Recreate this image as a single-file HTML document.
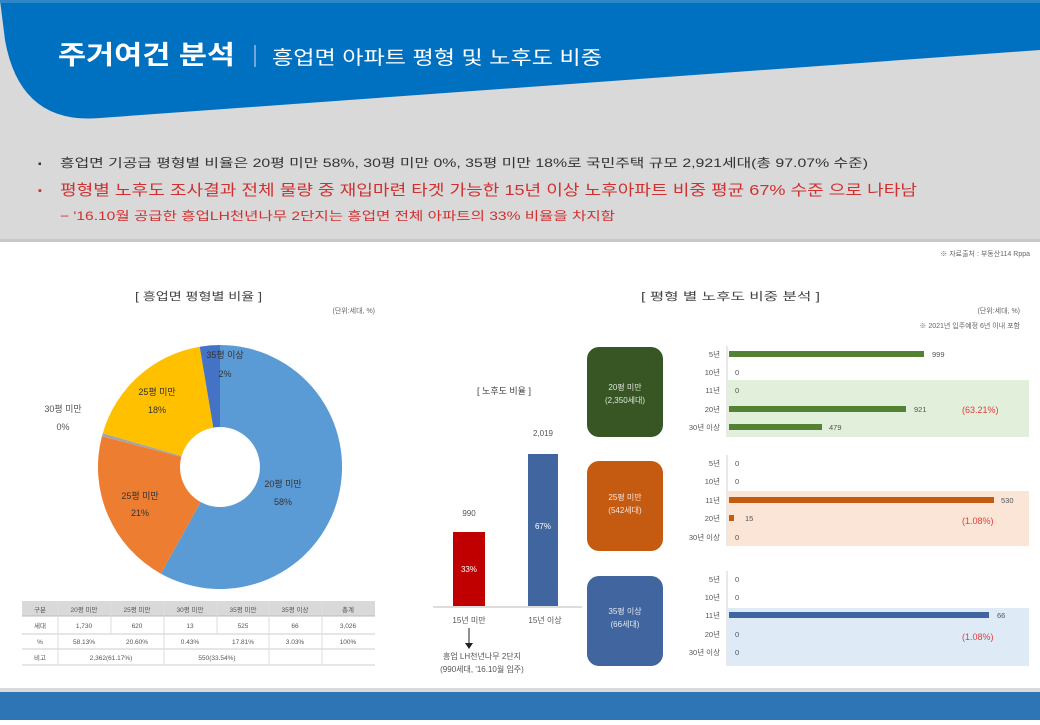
<!DOCTYPE html>
<html><head><meta charset="utf-8"><style>
body{margin:0;width:1040px;height:720px;overflow:hidden;background:#fff;font-family:"Liberation Sans","Noto Sans CJK KR",sans-serif;}
</style></head><body>
<svg width="1040" height="720" xmlns="http://www.w3.org/2000/svg" style="font-family:'Liberation Sans','Noto Sans CJK KR',sans-serif">
<rect x="0" y="0" width="1040" height="240" fill="#d9d9d9"/>
<path d="M0,0 H1040 V50 L100,118 Q20,125 5,40 Z" fill="#0070c0"/>
<rect x="0" y="0" width="1040" height="3" fill="#2e86c8"/>
<text x="58" y="64" font-size="26" fill="#fff" font-weight="bold" textLength="177" lengthAdjust="spacingAndGlyphs">주거여건 분석</text>
<rect x="254" y="45" width="2" height="22" fill="#6fa8dc"/>
<text x="272" y="64" font-size="19" fill="#fff" textLength="330" lengthAdjust="spacingAndGlyphs">흥업면 아파트 평형 및 노후도 비중</text>
<text x="38" y="167" font-size="10" fill="#333">▪</text>
<text x="60" y="167" font-size="12" fill="#333" textLength="808" lengthAdjust="spacingAndGlyphs">흥업면 기공급 평형별 비율은 20평 미만 58%, 30평 미만 0%, 35평 미만 18%로 국민주택 규모 2,921세대(총 97.07% 수준)</text>
<text x="38" y="194" font-size="11" fill="#d03030">▪</text>
<text x="60" y="195" font-size="15" fill="#d03030" textLength="857" lengthAdjust="spacingAndGlyphs">평형별 노후도 조사결과 전체 물량 중 재입마련 타겟 가능한 15년 이상 노후아파트 비중 평균 67% 수준 으로 나타남</text>
<text x="60" y="220" font-size="12" fill="#d03030" textLength="555" lengthAdjust="spacingAndGlyphs">− '16.10월 공급한 흥업LH천년나무 2단지는 흥업면 전체 아파트의 33% 비율을 차지함</text>
<rect x="0" y="239" width="1040" height="3" fill="#c8c8c8"/>
<text x="1030" y="256" font-size="7" fill="#666" text-anchor="end">※ 자료출처 : 부동산114 Rppa</text>

<!-- donut -->
<text x="135" y="300" font-size="11" fill="#444" textLength="127" lengthAdjust="spacingAndGlyphs">[ 흥업면 평형별 비율 ]</text>
<text x="375" y="313" font-size="7" fill="#666" text-anchor="end">(단위:세대, %)</text>
<path d="M220,345 A122,122 0 1,1 160.9,573.7 L200.6,502 A40,40 0 1,0 220,427 Z" fill="#5b9bd5"/>
<path d="M160.9,573.7 A122,122 0 0,1 101.9,436.2 L181.3,456.9 A40,40 0 0,0 200.6,502 Z" fill="#ed7d31"/>
<path d="M101.9,436.2 A122,122 0 0,1 102.8,433.2 L181.6,455.9 A40,40 0 0,0 181.3,456.9 Z" fill="#a5a5a5"/>
<path d="M102.8,433.2 A122,122 0 0,1 199.7,346.7 L213.3,427.6 A40,40 0 0,0 181.6,455.9 Z" fill="#ffc000"/>
<path d="M199.7,346.7 A122,122 0 0,1 220,345 L220,427 A40,40 0 0,0 213.3,427.6 Z" fill="#4472c4"/>
<g font-size="9" fill="#333" text-anchor="middle">
<text x="283" y="487">20평 미만</text><text x="283" y="505">58%</text>
<text x="140" y="499">25평 미만</text><text x="140" y="516">21%</text>
<text x="157" y="395">25평 미만</text><text x="157" y="413">18%</text>
<text x="225" y="358">35평 이상</text><text x="225" y="377">2%</text>
<text x="63" y="412" fill="#555">30평 미만</text><text x="63" y="430" fill="#555">0%</text>
</g>

<!-- table -->
<g font-size="6.5" fill="#555" text-anchor="middle">
<rect x="22" y="601" width="353" height="15" fill="#d9d9d9"/>
<line x1="22" y1="616" x2="375" y2="616" stroke="#bbb"/>
<line x1="22" y1="634" x2="375" y2="634" stroke="#ccc"/>
<line x1="22" y1="649" x2="375" y2="649" stroke="#ccc"/>
<line x1="22" y1="665" x2="375" y2="665" stroke="#ccc"/>
<g stroke="#ddd"><line x1="58" y1="601" x2="58" y2="665"/><line x1="111" y1="601" x2="111" y2="634"/><line x1="164" y1="601" x2="164" y2="665"/><line x1="217" y1="601" x2="217" y2="634"/><line x1="269" y1="601" x2="269" y2="665"/><line x1="322" y1="601" x2="322" y2="665"/></g>
<text x="40" y="612">구분</text><text x="84" y="612">20평 미만</text><text x="137" y="612">25평 미만</text><text x="190" y="612">30평 미만</text><text x="243" y="612">35평 미만</text><text x="295" y="612">35평 이상</text><text x="348" y="612">총계</text>
<text x="40" y="628">세대</text><text x="84" y="628">1,730</text><text x="137" y="628">620</text><text x="190" y="628">13</text><text x="243" y="628">525</text><text x="295" y="628">66</text><text x="348" y="628">3,026</text>
<text x="40" y="644">%</text><text x="84" y="644">58.13%</text><text x="137" y="644">20.60%</text><text x="190" y="644">0.43%</text><text x="243" y="644">17.81%</text><text x="295" y="644">3.03%</text><text x="348" y="644">100%</text>
<text x="40" y="660">비고</text><text x="111" y="660">2,362(61.17%)</text><text x="217" y="660">550(33.54%)</text>
</g>

<!-- old bars -->
<text x="504" y="394" font-size="9" fill="#444" text-anchor="middle">[ 노후도 비율 ]</text>
<rect x="453" y="532" width="32" height="74" fill="#c00000"/>
<rect x="528" y="454" width="30" height="152" fill="#41659e"/>
<line x1="433" y1="607" x2="582" y2="607" stroke="#ddd" stroke-width="2"/>
<g font-size="8" text-anchor="middle" fill="#555">
<text x="469" y="516">990</text><text x="543" y="436">2,019</text>
<text x="469" y="572" fill="#fff">33%</text><text x="543" y="529" fill="#fff">67%</text>
<text x="469" y="623">15년 미만</text><text x="545" y="623">15년 이상</text>
<text x="482" y="659">흥업 LH천년나무 2단지</text><text x="482" y="672">(990세대, '16.10월 입주)</text>
</g>
<line x1="469" y1="628" x2="469" y2="645" stroke="#222"/><path d="M465,643 h8 l-4,6 z" fill="#222"/>

<!-- right -->
<text x="641" y="300" font-size="11" fill="#444" textLength="179" lengthAdjust="spacingAndGlyphs">[ 평형 별 노후도 비중 분석 ]</text>
<text x="1020" y="313" font-size="7" fill="#666" text-anchor="end">(단위:세대, %)</text>
<text x="1020" y="328" font-size="7" fill="#666" text-anchor="end">※ 2021년 입주예정 6년 이내 포함</text>

<rect x="726" y="380" width="303" height="57" fill="#e2efda"/>
<rect x="726" y="491" width="303" height="55" fill="#fbe5d6"/>
<rect x="726" y="608" width="303" height="58" fill="#deebf7"/>
<g stroke="#e8e8e8" stroke-width="2"><line x1="727" y1="346" x2="727" y2="437"/><line x1="727" y1="455" x2="727" y2="546"/><line x1="727" y1="571" x2="727" y2="666"/></g>

<rect x="587" y="347" width="76" height="90" rx="12" fill="#375623"/>
<rect x="587" y="461" width="76" height="90" rx="12" fill="#c55a11"/>
<rect x="587" y="576" width="76" height="90" rx="12" fill="#41659e"/>
<g font-size="8" fill="#fff" text-anchor="middle" opacity="0.85">
<text x="625" y="390">20평 미만</text><text x="625" y="403">(2,350세대)</text>
<text x="625" y="500">25평 미만</text><text x="625" y="513">(542세대)</text>
<text x="625" y="614">35평 이상</text><text x="625" y="627">(66세대)</text>
</g>

<g font-size="7.5" fill="#555">
<g text-anchor="end">
<text x="720" y="357">5년</text><text x="720" y="375">10년</text><text x="720" y="393">11년</text><text x="720" y="412">20년</text><text x="720" y="430">30년 이상</text>
<text x="720" y="466">5년</text><text x="720" y="484">10년</text><text x="720" y="503">11년</text><text x="720" y="521">20년</text><text x="720" y="540">30년 이상</text>
<text x="720" y="582">5년</text><text x="720" y="600">10년</text><text x="720" y="618">11년</text><text x="720" y="637">20년</text><text x="720" y="655">30년 이상</text>
</g>
<rect x="729" y="351" width="195" height="6" fill="#548235"/><text x="932" y="357">999</text>
<text x="735" y="375">0</text><text x="735" y="393">0</text>
<rect x="729" y="406" width="177" height="6" fill="#548235"/><text x="914" y="412">921</text>
<rect x="729" y="424" width="93" height="6" fill="#548235"/><text x="829" y="430">479</text>
<text x="735" y="466">0</text><text x="735" y="484">0</text>
<rect x="729" y="497" width="265" height="6" fill="#c55a11"/><text x="1001" y="503">530</text>
<rect x="729" y="515" width="5" height="6" fill="#c55a11"/><text x="745" y="521">15</text>
<text x="735" y="540">0</text>
<text x="735" y="582">0</text><text x="735" y="600">0</text>
<rect x="729" y="612" width="260" height="6" fill="#41659e"/><text x="997" y="618">66</text>
<text x="735" y="637">0</text><text x="735" y="655">0</text>
</g>
<g font-size="9" fill="#e03c3c">
<text x="962" y="413">(63.21%)</text><text x="962" y="524">(1.08%)</text><text x="962" y="640">(1.08%)</text>
</g>

<rect x="0" y="688" width="1040" height="4" fill="#d9d9d9"/>
<rect x="0" y="692" width="1040" height="28" fill="#2e75b6"/>
</svg>
</body></html>
